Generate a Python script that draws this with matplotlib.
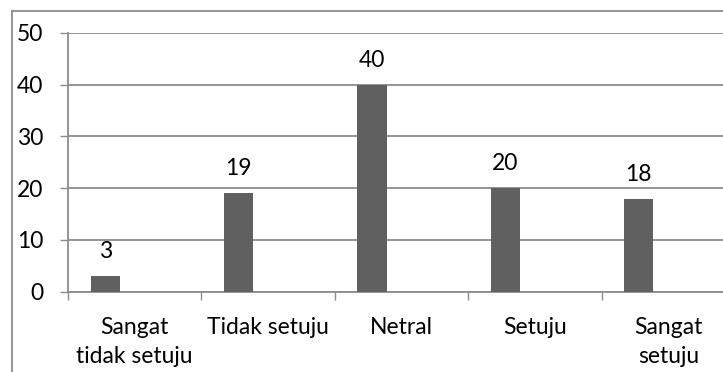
import numpy as np
import matplotlib
matplotlib.use('Agg')
import matplotlib.pyplot as plt
from matplotlib.lines import Line2D

categories = ['Sangat\ntidak setuju', 'Tidak setuju', 'Netral', 'Setuju', 'Sangat\nsetuju']
values = [3, 19, 40, 20, 18]
yticks = [0, 10, 20, 30, 40, 50]

plt.rcParams['font.family'] = ['Lato', 'DejaVu Sans']
grid_col = '#8c8c8c'
fs = 16.5

fig = plt.figure(figsize=(7.23, 3.72), dpi=100)
ax = fig.add_axes([68 / 723, 1 - 291.7 / 372, (735 - 68) / 723, (291.7 - 33) / 372])

x = np.arange(len(categories))
ax.bar(x - 0.221, values, width=0.218, color='#606060', zorder=3)
for xi, v in zip(x, values):
    ax.annotate(str(v), (xi - 0.221, v), xytext=(0, 13), textcoords='offset points',
                ha='center', va='baseline', fontsize=fs, color='black')

ax.set_xlim(-0.5, len(categories) - 0.5)
ax.set_ylim(0, 50)
ax.set_yticks(yticks)
ax.set_yticklabels([str(t) for t in yticks], fontsize=fs)
ax.yaxis.grid(True, color=grid_col, linewidth=1.3, zorder=0)
ax.tick_params(axis='y', length=5.8, width=1, color=grid_col, pad=12)

# category boundaries as major ticks, names on minor ticks
ax.set_xticks(np.arange(len(categories) + 1) - 0.5)
ax.set_xticklabels([])
ax.set_xticks(x, minor=True)
ax.set_xticklabels(categories, minor=True, fontsize=fs, linespacing=1.5)
ax.tick_params(axis='x', which='major', length=5.8, width=1, color=grid_col)
ax.tick_params(axis='x', which='minor', length=0, pad=18)

for s in ['top', 'right']:
    ax.spines[s].set_visible(False)
ax.spines['left'].set_color(grid_col)
ax.spines['bottom'].set_color(grid_col)
ax.spines['left'].set_linewidth(1.3)
ax.spines['bottom'].set_linewidth(1.3)

# outer chart frame (left and top edges visible)
fx, fy = 12 / 723, 1 - 11 / 372
fig.add_artist(Line2D([fx, fx], [0, fy], color=grid_col, linewidth=1.3))
fig.add_artist(Line2D([fx, 1], [fy, fy], color=grid_col, linewidth=1.3))

fig.savefig('out.png', dpi=100)
